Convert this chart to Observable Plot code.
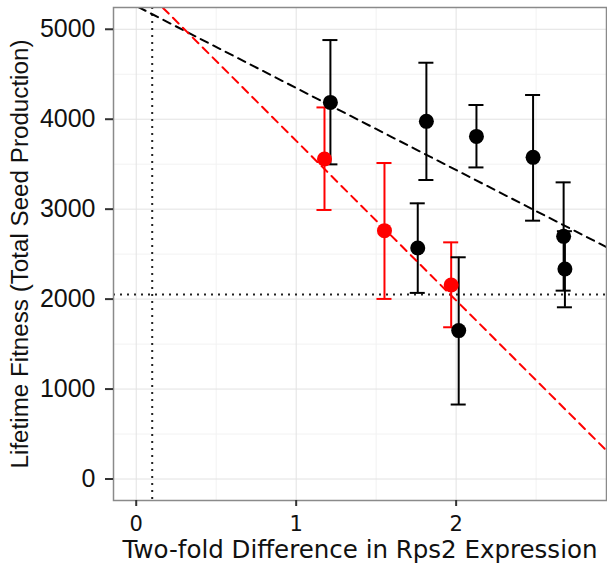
<!DOCTYPE html>
<html>
<head>
<meta charset="utf-8">
<script src="https://cdn.jsdelivr.net/npm/d3@7"></script>
<script src="https://cdn.jsdelivr.net/npm/@observablehq/plot@0.6"></script>
<style>
  html, body { margin: 0; padding: 0; background: #fff; }
</style>
</head>
<body>
<div id="chart"></div>
<script>
// Black group (all genotypes)
const blackX  = [1.214, 1.814, 2.127, 2.481, 2.672, 2.680, 1.760, 2.016];
const blackY  = [4187, 3976, 3809, 3576, 2698, 2335, 2569, 1650];
const blackHi = [4880, 4628, 4158, 4269, 3298, 2755, 3065, 2465];
const blackLo = [3498, 3324, 3464, 2872, 2094, 1909, 2069, 828];

// Red group
const redX  = [1.177, 1.552, 1.969];
const redY  = [3558, 2761, 2157];
const redHi = [4131, 3513, 2631];
const redLo = [2991, 2002, 1687];

// Fitted regression lines (intercept, slope)
const blackFit = {intercept: 5259, slope: -912};
const redFit   = {intercept: 5535, slope: -1775};

// Reference lines
const refX = [0.1];
const refY = [2050];

const xTicks = [0, 1, 2];
const yTicks = [0, 1000, 2000, 3000, 4000, 5000];
const xMinor = [0.5, 1.5, 2.5];
const yMinor = [500, 1500, 2500, 3500, 4500];

const xTitle = "Two-fold Difference in Rps2 Expression";
const yTitle = "Lifetime Fitness (Total Seed Production)";

const xDomain = [-0.142, 2.94];
const yDomain = [-239, 5242];

const black = blackX.map((x, i) => ({x, y: blackY[i], hi: blackHi[i], lo: blackLo[i]}));
const red = redX.map((x, i) => ({x, y: redY[i], hi: redHi[i], lo: redLo[i]}));
const fitLine = f => xDomain.map(x => ({x, y: f.intercept + f.slope * x}));
const capHalf = 0.047;

const bars = (data, color) => [
  Plot.ruleX(data, {x: "x", y1: "lo", y2: "hi", stroke: color, strokeWidth: 2}),
  Plot.ruleY(data, {y: "hi", x1: d => d.x - capHalf, x2: d => d.x + capHalf, stroke: color, strokeWidth: 2}),
  Plot.ruleY(data, {y: "lo", x1: d => d.x - capHalf, x2: d => d.x + capHalf, stroke: color, strokeWidth: 2})
];

const chart = Plot.plot({
  width: 607,
  height: 564,
  marginLeft: 113,
  marginRight: 1,
  marginTop: 7,
  marginBottom: 64,
  x: {domain: xDomain},
  y: {domain: yDomain},
  style: {background: "#fff"},
  marks: [
    Plot.gridX(xMinor, {stroke: "#f2f2f2", strokeOpacity: 1, strokeWidth: 1}),
    Plot.gridY(yMinor, {stroke: "#f2f2f2", strokeOpacity: 1, strokeWidth: 1}),
    Plot.gridX(xTicks, {stroke: "#e2e2e2", strokeOpacity: 1, strokeWidth: 1}),
    Plot.gridY(yTicks, {stroke: "#e2e2e2", strokeOpacity: 1, strokeWidth: 1}),
    Plot.ruleX(refX, {stroke: "#222", strokeWidth: 2, strokeDasharray: "2,5"}),
    Plot.ruleY(refY, {stroke: "#222", strokeWidth: 2, strokeDasharray: "2,5"}),
    ...bars(red, "#ff0000"),
    ...bars(black, "#000"),
    Plot.line(fitLine(blackFit), {x: "x", y: "y", stroke: "#000", strokeWidth: 2, strokeDasharray: "8,6", clip: true}),
    Plot.line(fitLine(redFit), {x: "x", y: "y", stroke: "#ff0000", strokeWidth: 2, strokeDasharray: "8,6", clip: true}),
    Plot.dot(red, {x: "x", y: "y", r: 7.5, fill: "#ff0000", stroke: null}),
    Plot.dot(black, {x: "x", y: "y", r: 7.5, fill: "#000", stroke: null}),
    Plot.frame({stroke: "#8a8a8a", strokeWidth: 1.5}),
    Plot.axisX(xTicks, {label: null, tickSize: 6, tickPadding: 10, strokeWidth: 2, stroke: "#333",
      fontSize: 21, fontFamily: "DejaVu Sans", fill: "#111", tickFormat: d => String(d)}),
    Plot.axisY(yTicks, {label: null, tickSize: 8, tickPadding: 10, strokeWidth: 2, stroke: "#333",
      fontSize: 25, fontFamily: "Liberation Sans", fill: "#111", tickFormat: d => String(d)}),
    Plot.text([xTitle], {frameAnchor: "bottom", dy: 57, lineAnchor: "bottom", textAnchor: "middle", text: d => d,
      fontSize: 24.5, fontFamily: "DejaVu Sans", fill: "#111"}),
    Plot.text([yTitle], {frameAnchor: "left", dx: -86, dy: 0, rotate: -90, lineAnchor: "bottom", textAnchor: "middle", text: d => d,
      fontSize: 24.2, fontFamily: "Liberation Sans", fill: "#111"})
  ]
});
document.getElementById("chart").appendChild(chart);
</script>
</body>
</html>
